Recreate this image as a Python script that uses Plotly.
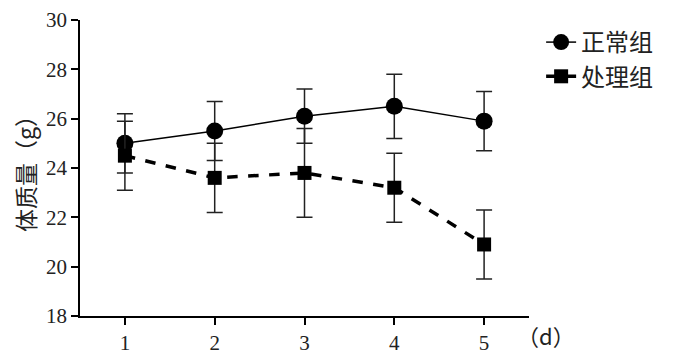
import plotly.graph_objects as go

days = [1, 2, 3, 4, 5]
normal_mean = [25.0, 25.5, 26.1, 26.5, 25.9]
normal_err = [1.2, 1.2, 1.1, 1.3, 1.2]
treat_mean = [24.5, 23.6, 23.8, 23.2, 20.9]
treat_err = [1.4, 1.4, 1.8, 1.4, 1.4]
y_ticks = [18, 20, 22, 24, 26, 28, 30]
series_names = ["正常组", "处理组"]

serif = "Liberation Serif, Times New Roman, serif"
cjk = "Noto Sans CJK SC, sans-serif"

fig = go.Figure()
fig.add_trace(go.Scatter(
    x=days, y=normal_mean, name=series_names[0], mode="lines+markers",
    line=dict(color="black", width=1.5),
    marker=dict(symbol="circle", size=17, color="black"),
    error_y=dict(type="data", array=normal_err, visible=True, color="#222", thickness=1.5, width=8),
    legendgroup="a",
))
fig.add_trace(go.Scatter(
    x=days, y=treat_mean, name=series_names[1], mode="lines+markers",
    line=dict(color="black", width=3.5, dash="dash"),
    marker=dict(symbol="square", size=14, color="black"),
    error_y=dict(type="data", array=treat_err, visible=True, color="#222", thickness=1.5, width=8),
    legendgroup="b",
))

fig.update_layout(
    width=692, height=352,
    margin=dict(l=72, r=171, t=12, b=44),
    plot_bgcolor="white", paper_bgcolor="white",
    showlegend=True,
    legend=dict(x=1.027, y=1.0, xanchor="left", yanchor="top",
                font=dict(family=cjk, size=24, color="#222"),
                traceorder="grouped", tracegroupgap=0,
                bgcolor="rgba(0,0,0,0)"),
    xaxis=dict(range=[0.5, 5.5], tickvals=days, ticktext=[str(d) for d in days],
               showline=True, linecolor="black", linewidth=1.5,
               ticks="outside", ticklen=7, tickwidth=1.5, tickcolor="black",
               showgrid=False, zeroline=False, automargin=False,
               tickfont=dict(family=serif, size=21, color="#222")),
    yaxis=dict(range=[18, 30], tickvals=y_ticks,
               showline=True, linecolor="black", linewidth=1.5,
               ticks="outside", ticklen=7, tickwidth=1.5, tickcolor="black",
               showgrid=False, zeroline=False, automargin=False,
               tickfont=dict(family=serif, size=21, color="#222"),
               title=dict(text="体质量（g）", font=dict(family=cjk, size=23, color="#222"), standoff=6)),
    annotations=[dict(text="（d）", x=1.0, y=0, xref="paper", yref="paper",
                      xanchor="left", yanchor="middle", yshift=-19, xshift=-14,
                      showarrow=False, font=dict(family=cjk, size=22, color="#222"))],
)

fig.write_html("out.html")
